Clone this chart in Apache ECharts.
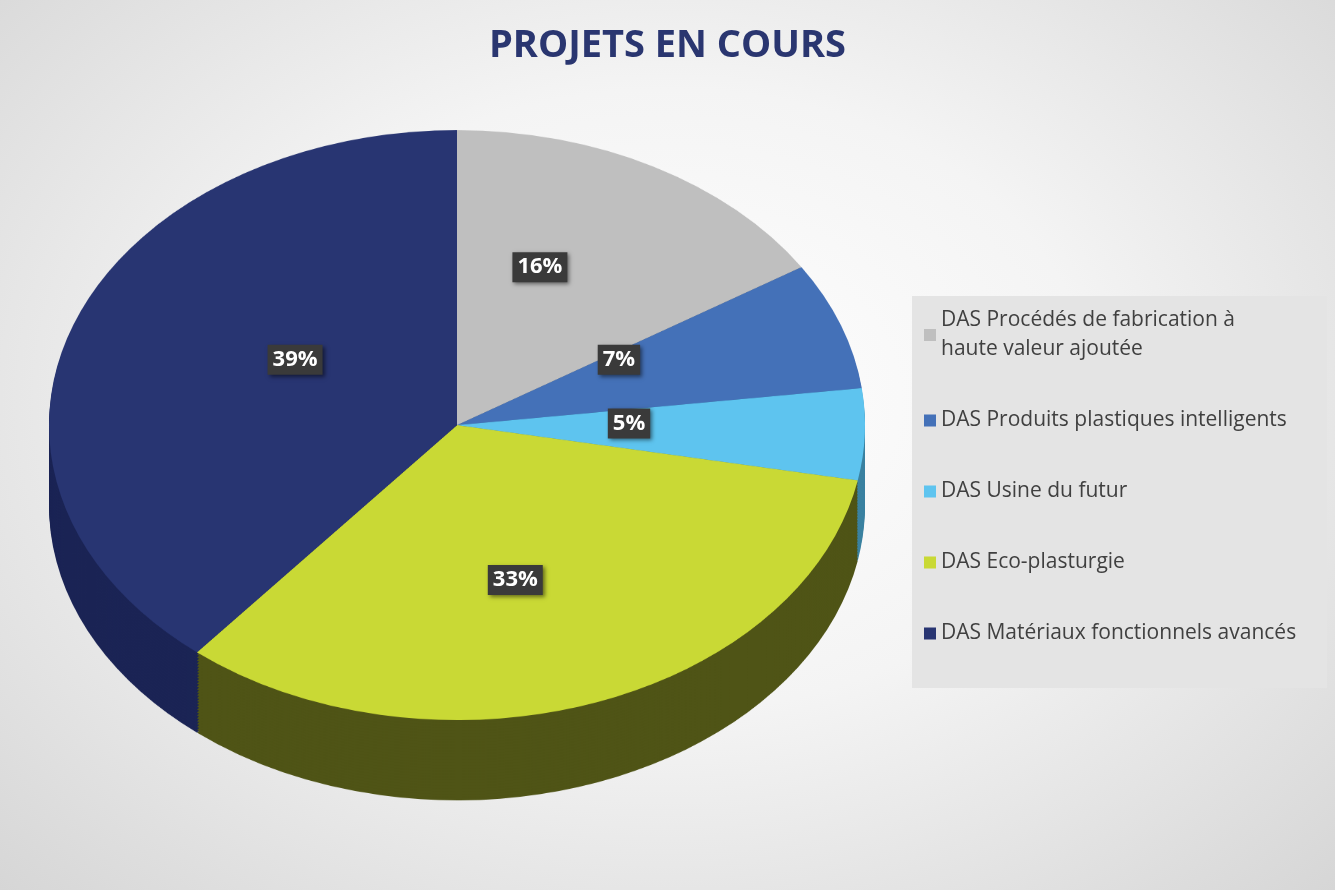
<!DOCTYPE html>
<html><head><meta charset="utf-8">
<script src="https://cdn.jsdelivr.net/npm/echarts@6/dist/echarts.min.js"></script>
<style>
html,body{margin:0;padding:0;}
#wrap{position:relative;width:1335px;height:890px;overflow:hidden;
 background:radial-gradient(ellipse at 50% 45%, #ffffff 0%, #f4f4f4 45%, #d6d6d6 100%);}
#pie{position:absolute;left:0;top:0;width:1335px;height:1231px;transform:scaleY(0.723);transform-origin:0 0;}
#top{position:absolute;left:0;top:0;width:1335px;height:890px;}
</style></head><body>
<div id="wrap"><div id="pie"></div><div id="top"></div></div>
<script>
const categories = ['DAS Procédés de fabrication à haute valeur ajoutée','DAS Produits plastiques intelligents','DAS Usine du futur','DAS Eco-plasturgie','DAS Matériaux fonctionnels avancés'];
const values = [16, 7, 5, 33, 39];
const colors = ['#bfbfbf','#4471b8','#5ec4ef','#c9d935','#283572'];
const sideColors = ['#7a7a7a','#2c4a7a','#3b82a0','#4f5416','#1b2455'];

const data = categories.map((n,i)=>({name:n,value:values[i]}));
const series = [];
for (let k = 111; k > 0; k -= 4) {
  series.push({type:'pie',radius:408,center:[457,588+k],silent:true,animation:false,
    label:{show:false},labelLine:{show:false},
    itemStyle:{color:p=>sideColors[p.dataIndex]},data:data});
}
series.push({type:'pie',radius:408,center:[457,588],silent:true,animation:false,
  label:{show:false},labelLine:{show:false},
  itemStyle:{color:p=>colors[p.dataIndex]},data:data});
echarts.init(document.getElementById('pie')).setOption({series});

echarts.init(document.getElementById('top')).setOption({
  title:{text:'PROJETS EN COURS',left:'center',top:22,
    textStyle:{fontFamily:'Open Sans',fontWeight:'bold',fontSize:38,color:'#2a3670'}},
  legend:{orient:'vertical',left:912,top:296,width:408,height:368,
    backgroundColor:'#e4e4e4',padding:[10,6,40,12],itemGap:42,itemWidth:12,itemHeight:12,icon:'rect',
    textStyle:{fontFamily:'Open Sans',fontSize:21,color:'#404040',width:380,overflow:'break',lineHeight:29},
    data:categories.map((n,i)=>({name:n,itemStyle:{color:colors[i]}}))},
  series:[{type:'pie',radius:['0%','76%'],center:[457,418],silent:true,animation:false,
    itemStyle:{color:'rgba(0,0,0,0)'},labelLine:{show:false},
    label:{show:true,position:'inside',formatter:'{d}%',fontFamily:'Open Sans',fontWeight:'bold',fontSize:22,
      color:'#fff',backgroundColor:'#3a3a3a',padding:[4,5],
      shadowColor:'rgba(0,0,0,0.5)',shadowBlur:4,shadowOffsetX:2,shadowOffsetY:2},
    data:data}]
});
</script></body></html>
